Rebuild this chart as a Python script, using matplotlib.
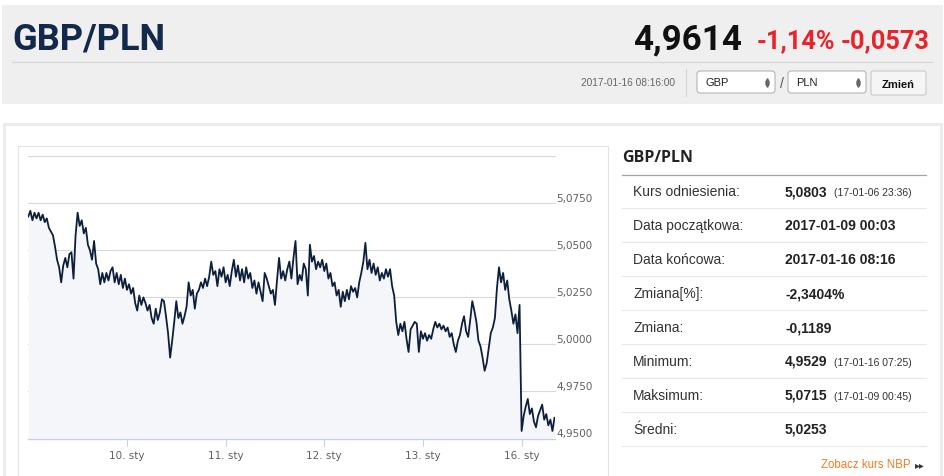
import numpy as np
import matplotlib.pyplot as plt
from matplotlib import font_manager as fm
from matplotlib.patches import Rectangle, FancyBboxPatch

# -------------------------
# data
# -------------------------
# GBP/PLN quotes, one every 30 min of trading time from 2017-01-09 00:00
# (weekend 14-15 Jan is skipped, like on the original ordinal axis)
rate_jan09 = [5.068, 5.071, 5.066, 5.070, 5.067, 5.070, 5.066, 5.069, 5.065, 5.067, 5.062, 5.060,
              5.058, 5.052, 5.045, 5.041, 5.033, 5.042, 5.046, 5.041, 5.048, 5.049, 5.035, 5.058,
              5.070, 5.063, 5.066, 5.059, 5.062, 5.053, 5.050, 5.045, 5.055, 5.043, 5.040, 5.032,
              5.038, 5.033, 5.038, 5.034, 5.039, 5.041, 5.033, 5.038, 5.032, 5.037, 5.030, 5.035]
rate_jan10 = [5.029, 5.032, 5.027, 5.030, 5.022, 5.018, 5.026, 5.021, 5.025, 5.022, 5.018, 5.021,
              5.014, 5.011, 5.019, 5.013, 5.017, 5.024, 5.023, 5.015, 5.006, 4.993, 5.002, 5.012,
              5.023, 5.014, 5.017, 5.011, 5.015, 5.020, 5.033, 5.026, 5.029, 5.019, 5.027, 5.029,
              5.033, 5.030, 5.035, 5.031, 5.036, 5.044, 5.037, 5.039, 5.031, 5.040, 5.036, 5.041]
rate_jan11 = [5.033, 5.037, 5.031, 5.039, 5.045, 5.036, 5.042, 5.034, 5.040, 5.033, 5.041, 5.035,
              5.038, 5.030, 5.034, 5.027, 5.033, 5.028, 5.023, 5.038, 5.035, 5.031, 5.027, 5.029,
              5.021, 5.034, 5.046, 5.035, 5.039, 5.034, 5.040, 5.044, 5.035, 5.046, 5.055, 5.032,
              5.037, 5.034, 5.043, 5.040, 5.026, 5.053, 5.044, 5.047, 5.040, 5.044, 5.041, 5.045]
rate_jan12 = [5.039, 5.043, 5.035, 5.038, 5.031, 5.033, 5.026, 5.029, 5.020, 5.028, 5.023, 5.029,
              5.024, 5.031, 5.028, 5.030, 5.025, 5.033, 5.038, 5.044, 5.054, 5.040, 5.045, 5.038,
              5.043, 5.037, 5.041, 5.034, 5.038, 5.035, 5.040, 5.036, 5.040, 5.031, 5.026, 5.012,
              5.005, 5.011, 5.007, 5.012, 5.003, 4.996, 5.008, 5.010, 5.012, 5.011, 4.996, 5.007]
rate_jan13 = [5.003, 5.006, 5.002, 5.005, 5.003, 5.008, 5.012, 5.009, 5.011, 5.008, 5.010, 5.007,
              5.009, 5.004, 5.006, 5.000, 4.996, 5.002, 5.005, 5.011, 5.015, 5.007, 5.004, 5.013,
              5.023, 5.018, 5.012, 5.002, 4.999, 4.993, 4.986, 4.990, 4.998, 5.006, 5.009, 5.014,
              5.030, 5.041, 5.033, 5.038, 5.029, 5.034, 5.024, 5.018, 5.011, 5.016, 5.006, 5.021]
rate_jan16 = [4.954, 4.962, 4.967, 4.971, 4.963, 4.966, 4.959, 4.956, 4.962, 4.965, 4.968, 4.960,
              4.963, 4.957, 4.960, 4.954, 4.961]

rate = rate_jan09 + rate_jan10 + rate_jan11 + rate_jan12 + rate_jan13 + rate_jan16
hours = np.arange(len(rate)) * 0.5   # trading hours since 09.01 00:00

day_ticks = [24, 48, 72, 96, 120]
day_labels = ["10. sty", "11. sty", "12. sty", "13. sty", "16. sty"]
y_ticks = [4.95, 4.975, 5.0, 5.025, 5.05, 5.075, 5.1]
y_labels = ["4,9500", "4,9750", "5,0000", "5,0250", "5,0500", "5,0750", ""]

pair = "GBP/PLN"
last_rate = "4,9614"
change_pct = "-1,14%"
change_abs = "-0,0573"
timestamp = "2017-01-16 08:16:00"
base_ccy = "GBP"
quote_ccy = "PLN"

stat_labels = ["Kurs odniesienia:", "Data początkowa:", "Data końcowa:", "Zmiana[%]:",
               "Zmiana:", "Minimum:", "Maksimum:", "Średni:"]
stat_values = ["5,0803", "2017-01-09 00:03", "2017-01-16 08:16", "-2,3404%",
               "-0,1189", "4,9529", "5,0715", "5,0253"]
stat_notes = ["(17-01-06 23:36)", "", "", "", "", "(17-01-16 07:25)", "(17-01-09 00:45)", ""]

# -------------------------
# fonts
# -------------------------
installed = {f.name for f in fm.fontManager.ttflist}
if "Liberation Sans Narrow" in installed:
    narrow, big_scale = "Liberation Sans Narrow", 1.0
else:
    narrow, big_scale = "Roboto", 0.87   # no condensed face: shrink a bit
sans = "Liberation Sans"

W, H = 945, 477
fig = plt.figure(figsize=(W / 100, H / 100), dpi=100)

# page layer in pixel coordinates
bg = fig.add_axes([0, 0, 1, 1], zorder=0)
bg.set_xlim(0, W)
bg.set_ylim(H, 0)
bg.axis("off")

# header
bg.add_patch(Rectangle((2, 6), 941, 99, fc="#efefef", ec="none"))
bg.plot([12, 932], [63, 63], color="#d6d6d6", lw=0.8)
bg.text(12, 49, pair, family=[narrow, "DejaVu Sans"], weight="bold",
        fontsize=30 * big_scale, color="#13294b", va="baseline")
bg.text(742, 49, last_rate, family=[narrow, "DejaVu Sans"], weight="bold",
        fontsize=29 * big_scale, color="#111111", ha="right", va="baseline")
bg.text(835, 48, change_pct, family=[narrow, "DejaVu Sans"], weight="bold",
        fontsize=21 * big_scale, color="#e8232a", ha="right", va="baseline")
bg.text(930, 48, change_abs, family=[narrow, "DejaVu Sans"], weight="bold",
        fontsize=21 * big_scale, color="#e8232a", ha="right", va="baseline")

bg.text(675, 83, timestamp, family=sans, fontsize=7.3, color="#666666",
        ha="right", va="center")
bg.plot([686, 686], [70, 97], color="#d3d3d3", lw=0.8)
for x0, ccy in [(697, base_ccy), (788, quote_ccy)]:
    bg.add_patch(FancyBboxPatch((x0, 72), 78, 22,
                                boxstyle="round,pad=0,rounding_size=3",
                                fc="white", ec="#b5b5b5", lw=0.8))
    bg.text(x0 + 8, 83, ccy, family=sans, fontsize=8, color="#222222", va="center")
    bg.plot([x0 + 70], [80.5], marker="^", ms=2.6, color="#666666", ls="None")
    bg.plot([x0 + 70], [86], marker="v", ms=2.6, color="#666666", ls="None")
bg.text(781.5, 83.5, "/", family=sans, fontsize=10, color="#555555",
        ha="center", va="center")
bg.add_patch(FancyBboxPatch((871, 72), 55, 24, boxstyle="round,pad=0,rounding_size=2",
                            fc="#f5f5f5", ec="#c9c9c9", lw=0.8))
bg.text(898.5, 84.5, "Zmień", family=sans, weight="bold", fontsize=8,
        color="#111111", ha="center", va="center")

# main panel and chart frame
bg.add_patch(Rectangle((4, 125), 937, 360, fc="white", ec="#ececec", lw=2.2))
bg.add_patch(Rectangle((17.5, 146.7), 590.5, 340, fc="white", ec="#e3e3e3", lw=0.8))

# statistics table
bg.text(622.5, 158.5, pair, family=["Open Sans", "DejaVu Sans"], weight="bold",
        fontsize=11.5, color="#222222", va="center")
bg.plot([622, 926], [175.5, 175.5], color="#a3a3a3", lw=0.9)
row_h = 33.9
for i, (lab, val, note) in enumerate(zip(stat_labels, stat_values, stat_notes)):
    yc = 175.5 + row_h * (i + 0.5)
    bg.text(633, yc, lab, family=sans, fontsize=10, color="#333333", va="center")
    bg.text(785, yc, val, family=sans, fontsize=10, weight="bold",
            color="#222222", va="center")
    if note:
        bg.text(834, yc + 1, note, family=sans, fontsize=7.5, color="#333333",
                va="center")
    bg.plot([622, 926], [175.5 + row_h * (i + 1)] * 2, color="#e8e8e8", lw=0.8)
bg.text(911, 465, "Zobacz kurs NBP", family=sans, fontsize=8.3, color="#f47c20",
        ha="right", va="center")
bg.text(915, 465, "▸▸", family="DejaVu Sans", fontsize=7, color="#333333",
        va="center")

# -------------------------
# chart
# -------------------------
px_left, px_right, px_top, px_bottom = 28.3, 554.5, 157.3, 439.5
ax = fig.add_axes([px_left / W, (H - px_bottom) / H,
                   (px_right - px_left) / W, (px_bottom - px_top) / H], zorder=1)
ax.patch.set_visible(False)

for yv in y_ticks:
    ax.axhline(yv, color="#d9d9d9", lw=0.8, zorder=0, clip_on=False)

ax.fill_between(hours, rate, 4.9, color="#f4f6f9", lw=0, zorder=1)
ax.plot(hours, rate, color="#0d1f3c", lw=1.3, zorder=2)

ax.set_xlim(0, hours[-1])
ax.set_ylim(4.95, 5.1)

ax.set_xticks(day_ticks)
ax.set_xticklabels(day_labels)
ax.set_yticks(y_ticks)
ax.set_yticklabels(y_labels)
ax.yaxis.tick_right()
plt.setp(ax.get_yticklabels(), va="bottom")

for side in ["top", "left", "right"]:
    ax.spines[side].set_visible(False)
ax.spines["bottom"].set_color("#c4d2e2")
ax.spines["bottom"].set_linewidth(0.9)

ax.tick_params(axis="x", direction="out", length=5, width=0.8, color="#c4d2e2",
               pad=3, labelsize=7.5, labelcolor="#606060")
ax.tick_params(axis="y", length=0, pad=1.5, labelsize=7.5, labelcolor="#606060")

fig.savefig("out.png", dpi=100)
